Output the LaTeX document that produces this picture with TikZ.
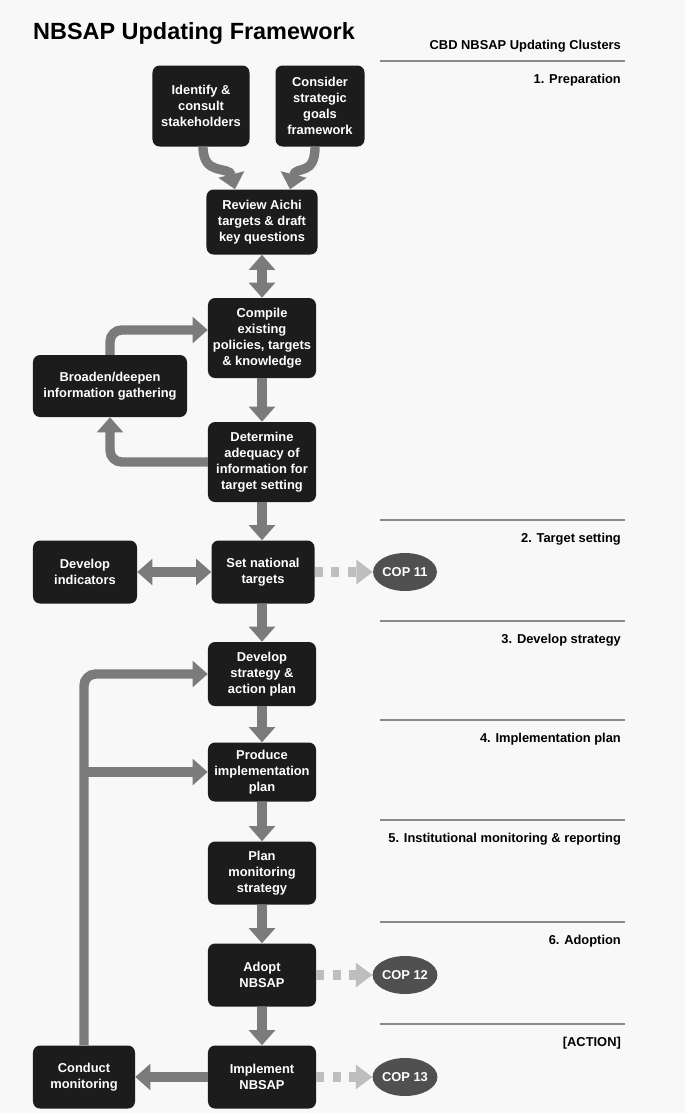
\documentclass[tikz,border=0pt]{standalone}
\usepackage{fontspec}
\setmainfont{Liberation Sans}
\usepackage{tikz}
\usetikzlibrary{shapes.geometric, arrows.meta, positioning, calc}
\definecolor{boxdark}{HTML}{1C1C1C}
\definecolor{flowgray}{HTML}{7B7B7B}
\definecolor{copgray}{HTML}{505050}
\definecolor{dashgray}{HTML}{BEBEBE}
\definecolor{rulegray}{HTML}{8A8A8A}
\definecolor{pagebg}{HTML}{F8F8F8}
\tikzstyle{stage} = [
  rectangle, fill=boxdark, text=white, align=center,
  font=\fontsize{11}{13.6}\selectfont\bfseries,
  rounded corners=6pt, inner sep=2pt
]
\tikzstyle{cop} = [
  ellipse, fill=copgray, text=white, inner sep=0pt,
  minimum width=1.86cm, minimum height=1.14cm,
  font=\fontsize{11}{13}\selectfont\bfseries
]
\tikzstyle{flow} = [-{Triangle[width=22pt,length=13pt]}, line width=8pt, draw=flowgray]
\tikzstyle{twoway} = [{Triangle[width=22pt,length=13pt]}-{Triangle[width=22pt,length=13pt]}, line width=8pt, draw=flowgray]
\tikzstyle{cophop} = [-{Triangle[width=20pt,length=14pt]}, line width=8pt, draw=dashgray, dash pattern=on 7pt off 7pt]
\tikzstyle{cluster} = [anchor=base east, font=\fontsize{11}{13}\selectfont\bfseries]
\tikzstyle{clusterline} = [draw=rulegray, line width=2.5pt]

\begin{document}
\begin{tikzpicture}[x=0.03cm, y=-0.03cm]

  % Page
  \fill[pagebg] (0,0) rectangle (685,1113);
  \useasboundingbox (0,0) rectangle (685,1113);

  % Title
  \node[anchor=base west, inner sep=0pt, font=\fontsize{20}{24}\selectfont\bfseries] (title) at (33,39) {NBSAP Updating Framework};

  % Cluster column
  \node[cluster] (clusters) at (625,49) {CBD NBSAP Updating Clusters};
  \draw[clusterline] (380,61) -- (625,61);
  \node[cluster] (prep) at (625,83) {1. Preparation};
  \draw[clusterline] (380,520) -- (625,520);
  \node[cluster] (targetset) at (625,542) {2. Target setting};
  \draw[clusterline] (380,621) -- (625,621);
  \node[cluster] (strategy) at (625,643) {3. Develop strategy};
  \draw[clusterline] (380,720) -- (625,720);
  \node[cluster] (implplan) at (625,742) {4. Implementation plan};
  \draw[clusterline] (380,820) -- (625,820);
  \node[cluster] (reporting) at (625,842) {5. Institutional monitoring \& reporting};
  \draw[clusterline] (380,922) -- (625,922);
  \node[cluster] (adoption) at (625,944) {6. Adoption};
  \draw[clusterline] (380,1024) -- (625,1024);
  \node[cluster] (action) at (625,1046) {[ACTION]};

  % Preparation steps
  \node[stage, minimum width=2.91cm, minimum height=2.43cm] (identify) at (201,106) {Identify \&\\consult\\stakeholders};
  \node[stage, minimum width=2.67cm, minimum height=2.43cm] (consider) at (320,106) {Consider\\strategic\\goals\\framework};
  \node[stage, minimum width=3.33cm, minimum height=1.95cm] (review) at (262,222) {Review Aichi\\targets \& draft\\key questions};
  \node[stage, minimum width=3.24cm, minimum height=2.4cm] (compile) at (262,338) {Compile\\existing\\policies, targets\\\& knowledge};
  \node[stage, minimum width=4.62cm, minimum height=1.86cm] (broaden) at (110,386) {Broaden/deepen\\information gathering};
  \node[stage, minimum width=3.24cm, minimum height=2.4cm] (determine) at (262,462) {Determine\\adequacy of\\information for\\target setting};

  % Target setting
  \node[stage, minimum width=3.12cm, minimum height=1.89cm] (indicators) at (85,572) {Develop\\indicators};
  \node[stage, minimum width=3.09cm, minimum height=1.89cm] (settargets) at (263,572) {Set national\\targets};
  \node[cop] (cop11) at (405,572) {COP 11};

  % Strategy to action
  \node[stage, minimum width=3.24cm, minimum height=1.92cm] (develop) at (262,674) {Develop\\strategy \&\\action plan};
  \node[stage, minimum width=3.24cm, minimum height=1.77cm] (produce) at (262,772) {Produce\\implementation\\plan};
  \node[stage, minimum width=3.24cm, minimum height=1.89cm] (planmon) at (262,873) {Plan\\monitoring\\strategy};
  \node[stage, minimum width=3.24cm, minimum height=1.89cm] (adopt) at (262,975) {Adopt\\NBSAP};
  \node[cop] (cop12) at (405,975) {COP 12};
  \node[stage, minimum width=3.24cm, minimum height=1.89cm] (implement) at (262,1077) {Implement\\NBSAP};
  \node[cop] (cop13) at (405,1077) {COP 13};
  \node[stage, minimum width=3.06cm, minimum height=1.89cm] (conduct) at (84,1077) {Conduct\\monitoring};

  % Into the review
  \draw[flow] ($(identify.south)+(2,0)$) .. controls +(0,30) and +(-6,-24) .. ($(review.north)+(-27,0)$);
  \draw[flow] ($(consider.south)+(-5,0)$) .. controls +(0,30) and +(6,-24) .. ($(review.north)+(28,0)$);

  % Information loop
  \draw[twoway] (review) -- (compile);
  \draw[flow] (compile) -- (determine);
  \draw[flow, rounded corners=10pt] (determine.west) -| (broaden.south);
  \draw[flow, rounded corners=10pt] (broaden.north) |- ($(compile.west)+(0,-8)$);

  % Main line
  \draw[flow] (determine.south) -- (determine.south |- settargets.north);
  \draw[twoway] (indicators) -- (settargets);
  \draw[flow] (settargets.south -| develop.north) -- (develop.north);
  \draw[flow] (develop) -- (produce);
  \draw[flow] (produce) -- (planmon);
  \draw[flow] (planmon) -- (adopt);
  \draw[flow] (adopt) -- (implement);
  \draw[flow] (implement) -- (conduct);

  % Monitoring feedback
  \draw[flow, rounded corners=10pt] (conduct.north) |- (develop.west);
  \draw[flow] (conduct.north |- produce.west) -- (produce.west);

  % To the COPs
  \draw[cophop] (settargets) -- (cop11);
  \draw[cophop] (adopt) -- (cop12);
  \draw[cophop] (implement) -- (cop13);

\end{tikzpicture}
\end{document}
